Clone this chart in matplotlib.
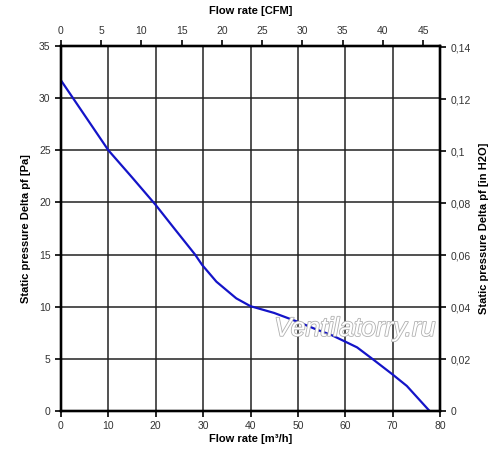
import matplotlib
matplotlib.use("Agg")
import matplotlib.pyplot as plt
import matplotlib.patheffects as pe

plt.rcParams['font.family'] = ['Liberation Sans', 'DejaVu Sans']

flow_m3h = [0, 10, 15, 20, 24, 28.3, 29.8, 32.8, 37, 40, 45, 50, 54, 57, 60, 62.5, 66, 70, 73, 77.8]
pressure_pa = [31.7, 25.0, 22.4, 19.75, 17.45, 15.0, 14.0, 12.4, 10.8, 10.05, 9.4, 8.55, 7.8, 7.3, 6.65, 6.1, 4.9, 3.5, 2.4, 0]

x_ticks = [0, 10, 20, 30, 40, 50, 60, 70, 80]
y_ticks = [0, 5, 10, 15, 20, 25, 30, 35]
cfm_ticks = [0, 5, 10, 15, 20, 25, 30, 35, 40, 45]
inh2o_ticks = [0, 0.02, 0.04, 0.06, 0.08, 0.1, 0.12, 0.14]
inh2o_labels = ["0", "0,02", "0,04", "0,06", "0,08", "0,1", "0,12", "0,14"]

M3H_PER_CFM = 1.699
PA_PER_INH2O = 249.09

fig = plt.figure(figsize=(5, 4.59), dpi=100)
ax = fig.add_axes([0.122, 0.1046, 0.758, 0.7952])

tick_color = '#333333'
fs = 7.5

ax.plot(flow_m3h, pressure_pa, color='#1414c8', lw=1.6, zorder=3)
ax.set_xlim(0, 80)
ax.set_ylim(0, 35)
ax.set_xticks(x_ticks)
ax.set_yticks(y_ticks)
ax.grid(True, color='#222222', lw=1.1)
for s in ax.spines.values():
    s.set_linewidth(1.6)
    s.set_color('black')
ax.tick_params(labelsize=fs, labelcolor=tick_color, length=4, width=1.2, direction='out')
ax.set_xlabel("Flow rate [m³/h]", fontsize=8, fontweight='bold', labelpad=2)
ax.set_ylabel("Static pressure Delta pf [Pa]", fontsize=8, fontweight='bold', labelpad=6)

axt = ax.twiny()
axt.set_xlim(0, 80 / M3H_PER_CFM)
axt.set_xticks(cfm_ticks)
axt.tick_params(labelsize=fs, labelcolor=tick_color, length=4, width=1.2, direction='out')
axt.set_xlabel("Flow rate [CFM]", fontsize=8, fontweight='bold', labelpad=8)

axr = ax.twinx()
axr.set_ylim(0, 35 / PA_PER_INH2O)
axr.set_yticks(inh2o_ticks)
axr.set_yticklabels(inh2o_labels)
axr.tick_params(labelsize=fs, labelcolor=tick_color, length=4, width=1.2, direction='out')
axr.set_ylabel("Static pressure Delta pf [in H2O]", fontsize=8, fontweight='bold', labelpad=6)
for a in (axt, axr):
    for s in a.spines.values():
        s.set_linewidth(1.6)

ax.text(0.775, 0.225, "Ventilatorry.ru", transform=ax.transAxes, ha='center', va='center',
        fontsize=19, style='italic', color='white', zorder=4,
        path_effects=[pe.withStroke(linewidth=1.2, foreground='#b0b0b0')])

fig.savefig("out.png", dpi=100)
